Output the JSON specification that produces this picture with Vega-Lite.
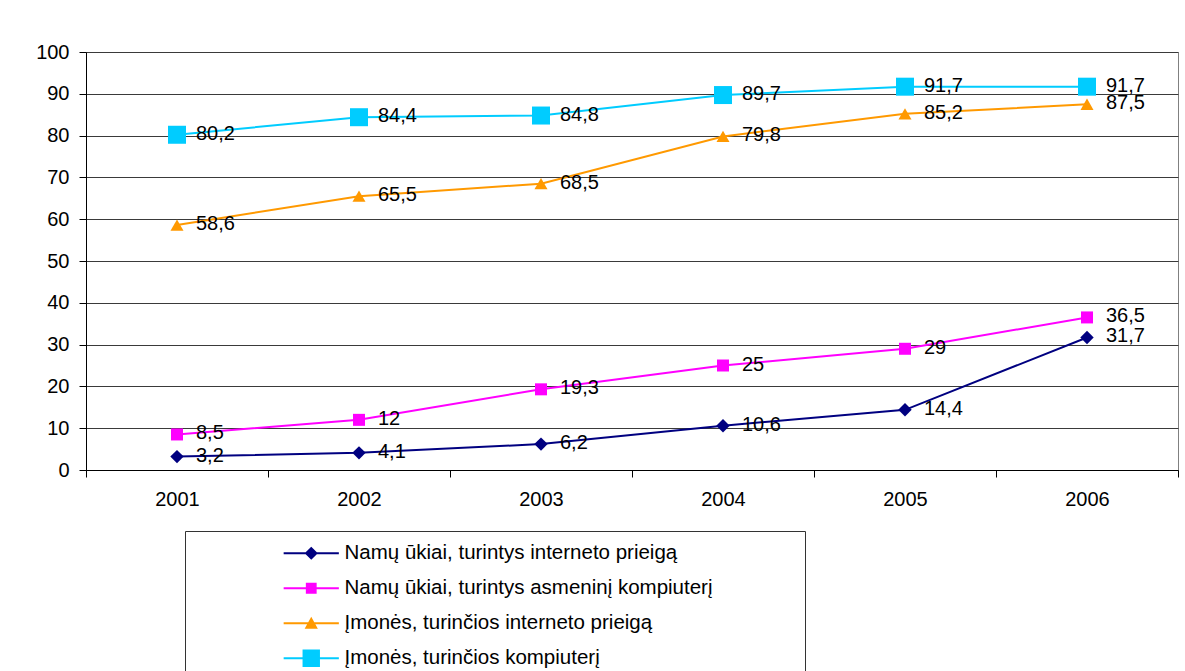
{
  "$schema": "https://vega.github.io/schema/vega-lite/v6.json",
  "autosize": {"type": "none"},
  "width": 1092,
  "height": 418,
  "padding": {"left": 86, "top": 52, "right": 7, "bottom": 201},
  "background": "white",
  "config": {
    "font": "Liberation Sans",
    "view": {"stroke": "#808080", "strokeWidth": 1},
    "axis": {"labelFont": "Liberation Sans", "labelFontSize": 20, "labelColor": "black", "domainColor": "black", "tickColor": "black", "title": null}
  },
  "data": {
    "values": [
      {"year": "2001", "series": "Namų ūkiai, turintys interneto prieigą", "value": 3.2, "label": "3,2"},
      {"year": "2002", "series": "Namų ūkiai, turintys interneto prieigą", "value": 4.1, "label": "4,1"},
      {"year": "2003", "series": "Namų ūkiai, turintys interneto prieigą", "value": 6.2, "label": "6,2"},
      {"year": "2004", "series": "Namų ūkiai, turintys interneto prieigą", "value": 10.6, "label": "10,6"},
      {"year": "2005", "series": "Namų ūkiai, turintys interneto prieigą", "value": 14.4, "label": "14,4"},
      {"year": "2006", "series": "Namų ūkiai, turintys interneto prieigą", "value": 31.7, "label": "31,7"},
      {"year": "2001", "series": "Namų ūkiai, turintys asmeninį kompiuterį", "value": 8.5, "label": "8,5"},
      {"year": "2002", "series": "Namų ūkiai, turintys asmeninį kompiuterį", "value": 12, "label": "12"},
      {"year": "2003", "series": "Namų ūkiai, turintys asmeninį kompiuterį", "value": 19.3, "label": "19,3"},
      {"year": "2004", "series": "Namų ūkiai, turintys asmeninį kompiuterį", "value": 25, "label": "25"},
      {"year": "2005", "series": "Namų ūkiai, turintys asmeninį kompiuterį", "value": 29, "label": "29"},
      {"year": "2006", "series": "Namų ūkiai, turintys asmeninį kompiuterį", "value": 36.5, "label": "36,5"},
      {"year": "2001", "series": "Įmonės, turinčios interneto prieigą", "value": 58.6, "label": "58,6"},
      {"year": "2002", "series": "Įmonės, turinčios interneto prieigą", "value": 65.5, "label": "65,5"},
      {"year": "2003", "series": "Įmonės, turinčios interneto prieigą", "value": 68.5, "label": "68,5"},
      {"year": "2004", "series": "Įmonės, turinčios interneto prieigą", "value": 79.8, "label": "79,8"},
      {"year": "2005", "series": "Įmonės, turinčios interneto prieigą", "value": 85.2, "label": "85,2"},
      {"year": "2006", "series": "Įmonės, turinčios interneto prieigą", "value": 87.5, "label": "87,5"},
      {"year": "2001", "series": "Įmonės, turinčios kompiuterį", "value": 80.2, "label": "80,2"},
      {"year": "2002", "series": "Įmonės, turinčios kompiuterį", "value": 84.4, "label": "84,4"},
      {"year": "2003", "series": "Įmonės, turinčios kompiuterį", "value": 84.8, "label": "84,8"},
      {"year": "2004", "series": "Įmonės, turinčios kompiuterį", "value": 89.7, "label": "89,7"},
      {"year": "2005", "series": "Įmonės, turinčios kompiuterį", "value": 91.7, "label": "91,7"},
      {"year": "2006", "series": "Įmonės, turinčios kompiuterį", "value": 91.7, "label": "91,7"}
    ]
  },
  "encoding": {
    "x": {
      "field": "year", "type": "ordinal",
      "scale": {"type": "band", "paddingInner": 0, "paddingOuter": 0},
      "axis": {"labelAngle": 0, "tickBand": "extent", "tickSize": 7, "labelPadding": 12, "domainWidth": 1}
    },
    "y": {
      "field": "value", "type": "quantitative",
      "scale": {"domain": [0, 100], "nice": false, "zero": true},
      "axis": {"values": [0, 10, 20, 30, 40, 50, 60, 70, 80, 90, 100], "grid": true, "gridColor": "#3a3a3a", "gridWidth": 1, "tickSize": 7, "labelPadding": 10}
    }
  },
  "layer": [
    {
      "mark": {"type": "line", "strokeWidth": 2},
      "encoding": {
        "color": {
          "field": "series", "type": "nominal",
          "scale": {
            "domain": ["Namų ūkiai, turintys interneto prieigą", "Namų ūkiai, turintys asmeninį kompiuterį", "Įmonės, turinčios interneto prieigą", "Įmonės, turinčios kompiuterį"],
            "range": ["#000080", "#FF00FF", "#FF9900", "#00CCFF"]
          },
          "legend": {
            "title": null,
            "orient": "none",
            "legendX": 99,
            "legendY": 479,
            "direction": "vertical",
            "strokeColor": "#333333",
            "fillColor": "white",
            "padding": 12,
            "symbolSize": 144,
            "symbolOffset": 104,
            "labelOffset": 23,
            "labelFont": "Liberation Sans",
            "labelFontSize": 20.5,
            "labelColor": "black",
            "labelLimit": 800,
            "rowPadding": 14,
            "labelExpr": "datum.label + '\u00a0\u00a0\u00a0\u00a0\u00a0\u00a0\u00a0\u00a0\u00a0\u00a0\u00a0\u00a0\u00a0\u00a0\u200b'",
            "encode": {
              "symbols": {
                "update": {
                  "shape": {"signal": "datum.value === 'Namų ūkiai, turintys interneto prieigą' ? 'M-4.6,-0.17H4.6V0.17H-4.6ZM0,-1.1L1.1,0L0,1.1L-1.1,0Z' : datum.value === 'Namų ūkiai, turintys asmeninį kompiuterį' ? 'M-4.6,-0.17H4.6V0.17H-4.6ZM-0.9,-0.9H0.9V0.9H-0.9Z' : datum.value === 'Įmonės, turinčios interneto prieigą' ? 'M-4.6,-0.17H4.6V0.17H-4.6ZM0,-1.1L1.1,0.9H-1.1Z' : 'M-4.6,-0.17H4.6V0.17H-4.6ZM-1.45,-1.45H1.45V1.45H-1.45Z'"},
                  "fill": {"scale": "color", "field": "value"},
                  "strokeWidth": {"value": 0},
                  "opacity": {"value": 1},
                  "fillOpacity": {"value": 1}
                }
              }
            }
          }
        }
      }
    },
    {
      "transform": [{"filter": "datum.series === 'Namų ūkiai, turintys interneto prieigą'"}],
      "mark": {"type": "point", "shape": "diamond", "size": 180, "filled": true, "opacity": 1, "color": "#000080"}
    },
    {
      "transform": [{"filter": "datum.series === 'Namų ūkiai, turintys asmeninį kompiuterį'"}],
      "mark": {"type": "point", "shape": "square", "size": 144, "filled": true, "opacity": 1, "color": "#FF00FF"}
    },
    {
      "transform": [{"filter": "datum.series === 'Įmonės, turinčios interneto prieigą'"}],
      "mark": {"type": "point", "shape": "triangle-up", "size": 170, "filled": true, "opacity": 1, "color": "#FF9900"}
    },
    {
      "transform": [{"filter": "datum.series === 'Įmonės, turinčios kompiuterį'"}],
      "mark": {"type": "point", "shape": "square", "size": 324, "filled": true, "opacity": 1, "color": "#00CCFF"}
    },
    {
      "mark": {"type": "text", "align": "left", "baseline": "middle", "dx": 19, "dy": -1, "fontSize": 20, "font": "Liberation Sans", "color": "black"},
      "encoding": {
        "text": {"field": "label", "type": "nominal"}
      }
    }
  ]
}
